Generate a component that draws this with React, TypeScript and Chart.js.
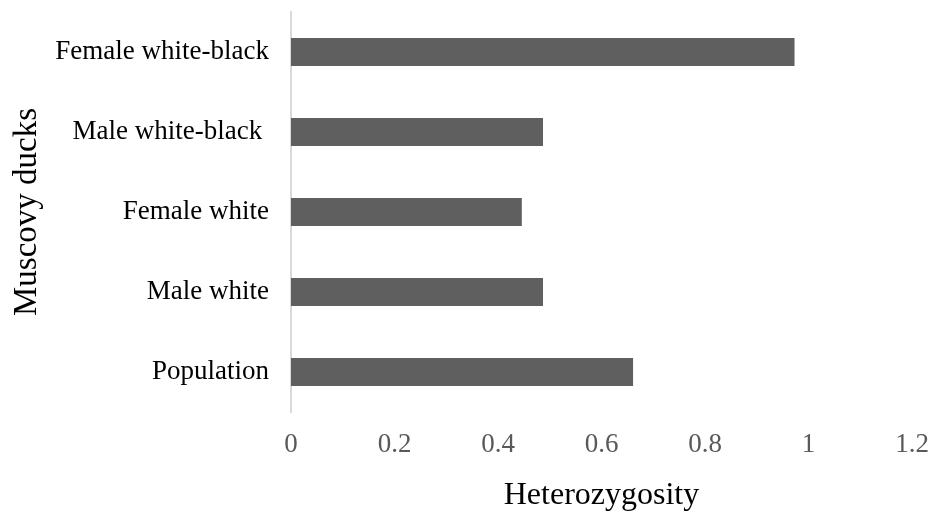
import React, { useEffect, useRef } from "react";
import { Chart, registerables } from "chart.js";

Chart.register(...registerables);

const categories = [
  "Female white-black",
  "Male white-black ",
  "Female white",
  "Male white",
  "Population",
];
const heterozygosity = [0.973, 0.487, 0.446, 0.487, 0.661];
const xTicks = [0, 0.2, 0.4, 0.6, 0.8, 1, 1.2];
const xTitle = "Heterozygosity";
const yTitle = "Muscovy ducks";

const FONT = "'Liberation Serif', 'Times New Roman', serif";

export default function App() {
  const ref = useRef<HTMLCanvasElement | null>(null);

  useEffect(() => {
    if (!ref.current) return;
    const chart = new Chart(ref.current, {
      type: "bar",
      data: {
        labels: categories,
        datasets: [
          {
            data: heterozygosity,
            backgroundColor: "#5f5f5f",
            borderWidth: 0,
            categoryPercentage: 1,
            barPercentage: 0.35,
          },
        ],
      },
      options: {
        indexAxis: "y",
        animation: false,
        responsive: false,
        maintainAspectRatio: false,
        devicePixelRatio: 1,
        layout: { padding: { left: 0, right: 23, top: 12, bottom: 0 } },
        plugins: {
          legend: { display: false },
          tooltip: { enabled: false },
        },
        scales: {
          x: {
            type: "linear",
            min: 0,
            max: 1.2,
            afterBuildTicks: (scale: any) => {
              scale.ticks = xTicks.map((v) => ({ value: v }));
            },
            afterFit: (scale: any) => {
              scale.height = 103;
              scale.paddingLeft = 0;
              scale.paddingRight = 0;
            },
            grid: { display: false, drawTicks: false },
            border: { display: false },
            ticks: {
              color: "#595959",
              font: { family: FONT, size: 27 },
              padding: 17,
              maxRotation: 0,
              callback: (v: any) => String(v),
            },
            title: {
              display: true,
              text: xTitle,
              color: "#000000",
              font: { family: FONT, size: 32 },
              padding: { top: 0, bottom: 0 },
            },
          },
          y: {
            afterFit: (scale: any) => {
              scale.width = 291;
              scale.paddingTop = 0;
              scale.paddingBottom = 0;
            },
            grid: { display: false, drawTicks: false },
            border: { display: true, color: "#d9d9d9", width: 2 },
            ticks: {
              color: "#000000",
              font: { family: FONT, size: 27 },
              padding: 22,
            },
            title: {
              display: true,
              text: yTitle,
              color: "#000000",
              font: { family: FONT, size: 33 },
              padding: { top: 8, bottom: 0 },
            },
          },
        },
      },
    });
    return () => chart.destroy();
  }, []);

  return (
    <div style={{ position: "fixed", left: 0, top: 0, width: 935, height: 515, background: "#ffffff" }}>
      <canvas ref={ref} width={935} height={515} style={{ width: 935, height: 515 }} />
    </div>
  );
}
